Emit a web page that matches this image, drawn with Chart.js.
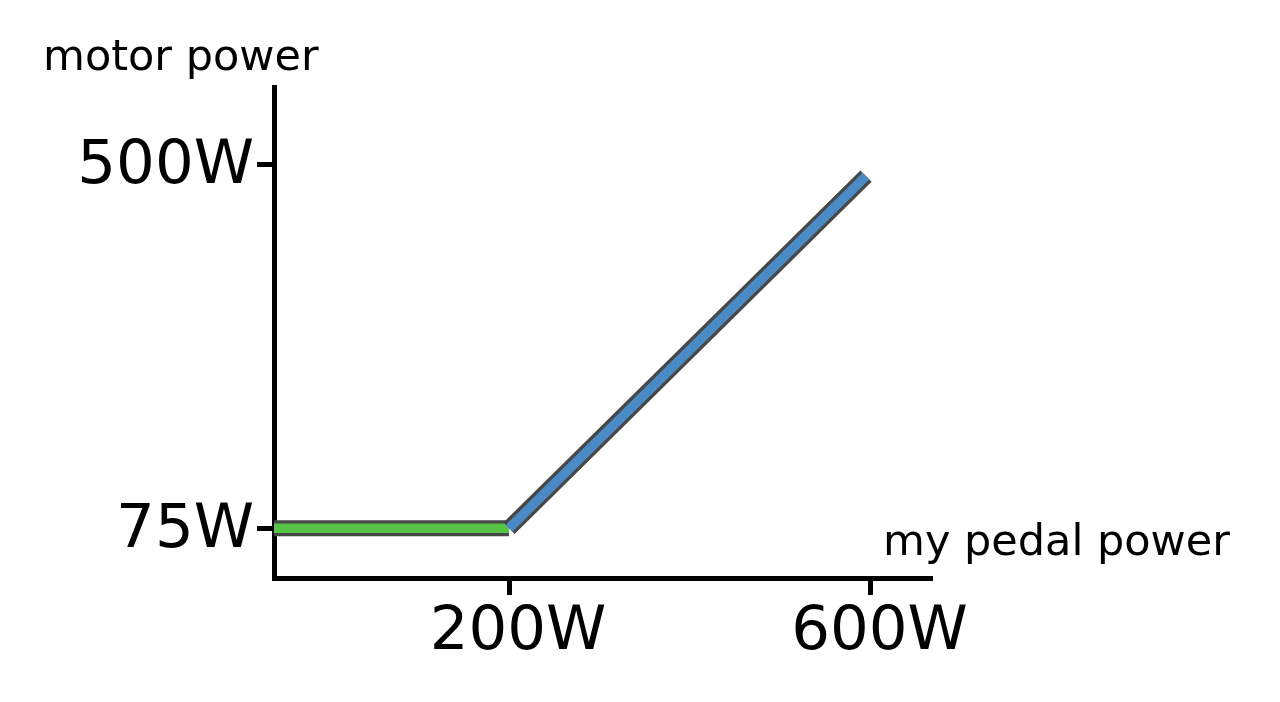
<!DOCTYPE html>
<html>
<head>
<meta charset="utf-8">
<script src="https://cdn.jsdelivr.net/npm/chart.js@4"></script>
<style>
  html, body { margin: 0; padding: 0; background: #fff; overflow: hidden; }
  #wrap { width: 1280px; height: 702px; position: relative; }
</style>
</head>
<body>
<div id="wrap"><canvas id="c" width="1280" height="702"></canvas></div>
<script>
// ---- data ----
const xTicks = [200, 600];
const xTickLabels = ['200W', '600W'];
const yTicks = [75, 500];
const yTickLabels = ['75W', '500W'];
const flatX = [-60, 200];   // pedal power, constant-assist segment
const flatY = [75, 75];     // motor power
const rampX = [200, 595];   // pedal power, proportional segment
const rampY = [75, 486];    // motor power
const xTitle = 'my pedal power';
const yTitle = 'motor power';

const toPts = (xs, ys) => xs.map((x, i) => ({ x: x, y: ys[i] }));

const OUTLINE = '#474747';
const GREEN = '#57c447';
const BLUE = '#4b8bc5';

function lineDs(xs, ys, color, width, order) {
  return {
    data: toPts(xs, ys),
    borderColor: color,
    borderWidth: width,
    borderCapStyle: 'butt',
    borderJoinStyle: 'miter',
    pointRadius: 0,
    pointHoverRadius: 0,
    tension: 0,
    fill: false,
    clip: false,
    order: order
  };
}

const titlesPlugin = {
  id: 'axisTitles',
  afterDraw(chart) {
    const ctx = chart.ctx;
    ctx.save();
    ctx.fillStyle = '#000';
    ctx.font = '43px "DejaVu Sans"';
    ctx.textAlign = 'left';
    ctx.textBaseline = 'alphabetic';
    ctx.fillText(yTitle, 43, 69.5);
    ctx.fillText(xTitle, 883, 555);
    ctx.restore();
  }
};

const tickFont = { family: 'DejaVu Sans', size: 61, lineHeight: 1.2 };

new Chart(document.getElementById('c'), {
  type: 'line',
  data: {
    datasets: [
      lineDs(rampX, rampY, BLUE, 9.5, 0),
      lineDs(rampX, rampY, OUTLINE, 16, 1),
      lineDs(flatX, flatY, GREEN, 9.5, 2),
      lineDs(flatX, flatY, OUTLINE, 16, 3)
    ]
  },
  options: {
    responsive: false,
    maintainAspectRatio: false,
    animation: false,
    devicePixelRatio: 1,
    events: [],
    layout: { padding: { left: 0, top: 87, right: 348, bottom: 0 } },
    plugins: { legend: { display: false }, tooltip: { enabled: false }, title: { display: false } },
    scales: {
      x: {
        type: 'linear',
        min: -60,
        max: 668,
        afterFit(scale) { scale.height = 124; },
        afterBuildTicks(scale) { scale.ticks = xTicks.map(v => ({ value: v })); },
        border: { display: true, color: '#000', width: 5 },
        grid: { display: true, drawOnChartArea: false, drawTicks: true, tickLength: 17, tickWidth: 5, tickColor: '#000' },
        ticks: {
          autoSkip: false,
          maxRotation: 0,
          minRotation: 0,
          padding: 2,
          labelOffset: 9,
          color: '#000',
          font: tickFont,
          callback: (v, i) => xTickLabels[i]
        }
      },
      y: {
        type: 'linear',
        min: 17,
        max: 590,
        afterFit(scale) { scale.width = 274; },
        afterBuildTicks(scale) { scale.ticks = yTicks.map(v => ({ value: v })); },
        border: { display: true, color: '#000', width: 5 },
        grid: { display: true, drawOnChartArea: false, drawTicks: true, tickLength: 17, tickWidth: 5, tickColor: '#000' },
        ticks: {
          autoSkip: false,
          padding: 3,
          labelOffset: 3,
          color: '#000',
          font: tickFont,
          callback: (v, i) => yTickLabels[i]
        }
      }
    }
  },
  plugins: [titlesPlugin]
});
</script>
</body>
</html>
